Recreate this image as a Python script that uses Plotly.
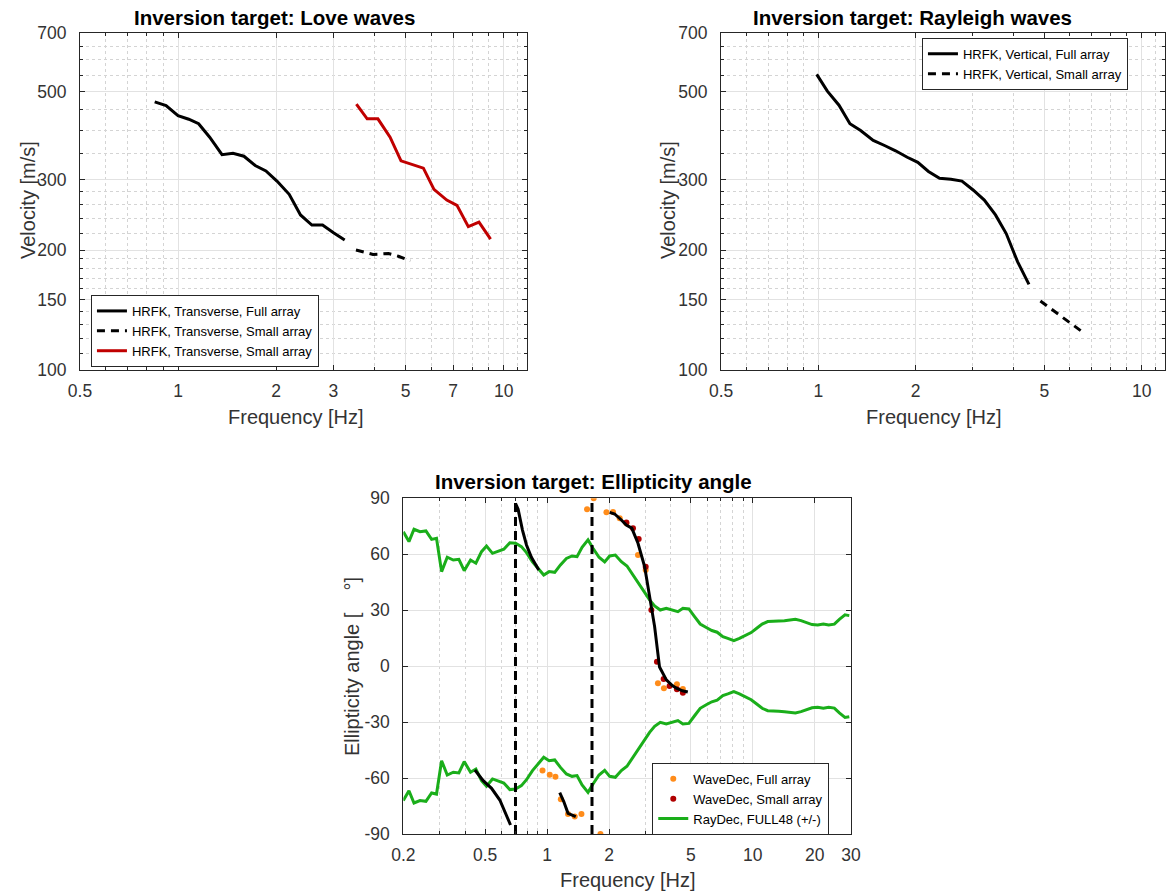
import plotly.graph_objects as go
import math

# ---------------- DATA ----------------
# Love waves
love_full_f = [0.848, 0.919, 1.0, 1.079, 1.157, 1.251, 1.365, 1.475, 1.594, 1.726, 1.862, 2.013, 2.195, 2.378, 2.577, 2.779, 3.003, 3.25]
love_full_v = [471, 461, 435, 426, 415, 384, 347, 350, 344, 326, 316, 298, 276, 245, 231, 231, 221, 212]
love_small_f = [3.52, 3.97, 4.43, 4.75, 5.17]
love_small_v = [200, 195, 196, 193, 188]
love_red_f = [3.53, 3.81, 4.11, 4.48, 4.84, 5.27, 5.67, 6.11, 6.69, 7.19, 7.79, 8.40, 9.12]
love_red_v = [465, 427, 427, 384, 335, 328, 321, 284, 267, 259, 229, 235, 213]

# Rayleigh waves
ray_full_f = [0.988, 1.066, 1.158, 1.252, 1.351, 1.478, 1.602, 1.733, 1.883, 2.03, 2.19, 2.37, 2.57, 2.78, 3.01, 3.26, 3.53, 3.81, 4.13, 4.48]
ray_full_v = [552, 501, 462, 415, 399, 377, 366, 355, 342, 332, 315, 303, 301, 298, 283, 267, 245, 220, 187, 164]
ray_small_f = [4.86, 5.70, 6.70]
ray_small_v = [149, 135.6, 123]

# Ellipticity: RayDec (plotted as +/-)
raydec_f = [0.2, 0.213, 0.2254, 0.241, 0.2576, 0.2745, 0.290, 0.307, 0.327, 0.350,
            0.3725, 0.3955, 0.4245, 0.4506, 0.480, 0.5076, 0.5428, 0.578, 0.616, 0.659,
            0.702, 0.750, 0.794, 0.849, 0.904, 0.963, 1.023, 1.089, 1.161, 1.241,
            1.322, 1.398, 1.479, 1.581, 1.672, 1.788, 1.905, 2.015, 2.146, 2.296,
            2.445, 2.615, 2.786, 2.979, 3.150, 3.332, 3.549, 3.795, 4.045, 4.325,
            4.573, 4.890, 5.21, 5.55, 5.94, 6.32, 6.71, 7.15, 7.56, 8.09,
            8.61, 9.18, 9.82, 10.45, 11.10, 11.82, 12.6, 13.37, 14.25, 15.18,
            16.11, 17.16, 18.28, 19.41, 20.68, 22.03, 23.38, 24.91, 26.35, 28.06, 29.45]
raydec_a = [72.1, 66.8, 73.4, 72.1, 72.5, 68.0, 68.6, 50.7, 58.4, 56.9,
            57.3, 51.2, 56.9, 55.2, 61.4, 64.4, 60.5, 61.8, 62.7, 66.2,
            65.9, 64.1, 60.9, 56.0, 52.5, 48.9, 50.7, 50.3, 54.3, 57.8,
            59.1, 58.7, 63.7, 67.7, 63.2, 58.4, 55.9, 59.1, 59.6, 56.0,
            53.7, 48.9, 44.1, 40.0, 35.5, 32.3, 30.1, 31.0, 30.1, 29.2,
            31.0, 30.7, 26.6, 22.6, 20.7, 19.1, 18.2, 15.8, 14.9, 13.7,
            14.9, 16.4, 18.0, 20.3, 22.6, 23.9, 23.9, 24.2, 24.4, 24.8,
            25.1, 24.4, 23.3, 22.3, 22.1, 22.6, 22.1, 22.5, 25.1, 27.5, 27.1]
raydec_a_neg = [-a for a in raydec_a]

# WaveDec points
wd_full_f = [0.95, 1.03, 1.098, 1.166, 1.264, 1.363, 1.469, 1.564, 1.685, 1.817,
             1.943, 2.091, 2.254, 2.429, 2.766, 3.015, 3.458, 3.698, 4.276, 4.57]
wd_full_a = [-56, -58.2, -59.3, -71.4, -79.3, -80.7, -79.3, 84.1, 90, -90,
             82.5, 82.7, 79.3, 76.6, 59.6, 51.6, -9.2, -11.9, -9.7, -12.2]
wd_small_f = [2.429, 2.615, 2.787, 3.015, 3.213, 3.42, 3.686, 3.94, 4.276, 4.57]
wd_small_a = [77.1, 73.9, 68.2, 53.3, 30.1, 2.4, -6.9, -10.6, -12.4, -14.2]

# Inversion target (black curves)
fitA_f = [0.4456, 0.489, 0.537, 0.589, 0.664]
fitA_a = [-55.7, -61.4, -65.5, -71.8, -85.2]
fitB_f = [0.702, 0.723, 0.759, 0.794, 0.839, 0.911]
fitB_a = [87.3, 84.1, 73.0, 65.0, 58.4, 51.6]
fitC_f = [1.152, 1.205, 1.264, 1.337, 1.378]
fitC_a = [-67.8, -72.6, -78.9, -80.3, -80.7]
fitD_f = [2.015, 2.131, 2.296, 2.427, 2.58, 2.766, 2.979, 3.15, 3.332, 3.52, 3.66, 3.80, 4.05, 4.25, 4.55, 4.83]
fitD_a = [82.5, 81.6, 78.4, 75.7, 74.0, 65.9, 53.4, 36.5, 21.2, -0.5, -4.5, -7.4, -10.3, -11.8, -13.2, -13.9]

# Frequency-band limits (vertical dashed)
vline_f = [0.702, 1.653]
vline_a = [-90, 88]

# Ticks
vel_ticks = [100, 150, 200, 300, 500, 700]
vel_minor = [110, 120, 130, 140, 160, 170, 180, 190, 220, 240, 260, 280, 350, 400, 450, 550, 600, 650]
love_fticks = [0.5, 1, 2, 3, 5, 7, 10]
love_fminor = [0.6, 0.7, 0.8, 0.9, 4, 6, 8, 9, 11]
ray_fticks = [0.5, 1, 2, 5, 10]
ray_fminor = [0.6, 0.7, 0.8, 0.9, 3, 4, 6, 7, 8, 9, 11]
ell_fticks = [0.2, 0.5, 1, 2, 5, 10, 20, 30]
ell_fticks_text = ["0.2", "0.5", "1", "2", "5", "10", "20", "30"]
ell_fminor = [0.3, 0.4, 0.6, 0.7, 0.8, 0.9, 3, 4, 6, 7, 8, 9]
ell_aticks = [-90, -60, -30, 0, 30, 60, 90]

# ---------------- STYLE ----------------
FONT = "Liberation Sans, Arial, Helvetica, sans-serif"
AX = "#262626"
TXT = "#333333"
RED = "#c00000"
GREEN = "#1aae1a"
ORANGE = "#ff8c1a"
DKRED = "#b00000"
TICKSIZE = 17.5
LABSIZE = 20
TITSIZE = 20.5
LEGSIZE = 13

fig = go.Figure()

# Love
fig.add_trace(go.Scatter(x=love_full_f, y=love_full_v, mode="lines", line=dict(color="black", width=3),
                         name="HRFK, Transverse, Full array", xaxis="x", yaxis="y", legend="legend"))
fig.add_trace(go.Scatter(x=love_small_f, y=love_small_v, mode="lines", line=dict(color="black", width=3, dash="8px,6px"),
                         name="HRFK, Transverse, Small array", xaxis="x", yaxis="y", legend="legend"))
fig.add_trace(go.Scatter(x=love_red_f, y=love_red_v, mode="lines", line=dict(color=RED, width=3),
                         name="HRFK, Transverse, Small array", xaxis="x", yaxis="y", legend="legend"))

# Rayleigh
fig.add_trace(go.Scatter(x=ray_full_f, y=ray_full_v, mode="lines", line=dict(color="black", width=3),
                         name="HRFK, Vertical, Full array", xaxis="x2", yaxis="y2", legend="legend2"))
fig.add_trace(go.Scatter(x=ray_small_f, y=ray_small_v, mode="lines", line=dict(color="black", width=3, dash="8px,6px"),
                         name="HRFK, Vertical, Small array", xaxis="x2", yaxis="y2", legend="legend2"))

# Ellipticity
fig.add_trace(go.Scatter(x=raydec_f, y=raydec_a, mode="lines", line=dict(color=GREEN, width=3),
                         showlegend=False, xaxis="x3", yaxis="y3", legend="legend3"))
fig.add_trace(go.Scatter(x=raydec_f, y=raydec_a_neg, mode="lines", line=dict(color=GREEN, width=3),
                         showlegend=False, xaxis="x3", yaxis="y3", legend="legend3"))
fig.add_trace(go.Scatter(x=wd_full_f, y=wd_full_a, mode="markers", marker=dict(color=ORANGE, size=6),
                         name="WaveDec, Full array", xaxis="x3", yaxis="y3", legend="legend3"))
fig.add_trace(go.Scatter(x=wd_small_f, y=wd_small_a, mode="markers", marker=dict(color=DKRED, size=6),
                         name="WaveDec, Small array", xaxis="x3", yaxis="y3", legend="legend3"))
# legend proxy for the RayDec curve
fig.add_trace(go.Scatter(x=[None], y=[None], mode="lines", line=dict(color=GREEN, width=3),
                         name="RayDec, FULL48 (+/-)", xaxis="x3", yaxis="y3", legend="legend3"))
for ff, aa in [(fitA_f, fitA_a), (fitB_f, fitB_a), (fitC_f, fitC_a), (fitD_f, fitD_a)]:
    fig.add_trace(go.Scatter(x=ff, y=aa, mode="lines", line=dict(color="black", width=3),
                             showlegend=False, xaxis="x3", yaxis="y3"))
for vf in vline_f:
    fig.add_trace(go.Scatter(x=[vf, vf], y=vline_a, mode="lines", line=dict(color="black", width=3, dash="9px,5px"),
                             showlegend=False, xaxis="x3", yaxis="y3"))


def axis(domain, anchor, rng, tickvals, ticktext=None, minor_vals=None, logt=True, standoff=4):
    d = dict(domain=domain, anchor=anchor, range=rng, type="log" if logt else "linear",
             tickmode="array", tickvals=tickvals,
             showline=True, linecolor=AX, linewidth=1, mirror="allticks",
             ticks="inside", ticklen=5, tickcolor=AX, tickwidth=1,
             showgrid=True, gridcolor="#e2e2e2", gridwidth=1, zeroline=False,
             tickfont=dict(size=TICKSIZE, color=TXT, family=FONT), automargin=False,
             ticklabelstandoff=standoff)
    if ticktext is not None:
        d["ticktext"] = ticktext
    if minor_vals is not None:
        d["minor"] = dict(tickmode="array", tickvals=minor_vals, showgrid=True, gridcolor="#d4d4d4",
                          griddash="dot", gridwidth=1, ticks="inside", ticklen=3, tickcolor=AX)
    return d


LX = [math.log10(0.5), math.log10(11.8)]
LY = [2, math.log10(700)]

def legend(x, y):
    return dict(x=x, y=y, xanchor="left", yanchor="middle", bgcolor="white", bordercolor=AX, borderwidth=1,
                font=dict(size=LEGSIZE, family=FONT, color="black"), tracegroupgap=0)

fig.update_layout(
    width=1166, height=895,
    margin=dict(l=0, r=0, t=0, b=0),
    paper_bgcolor="white", plot_bgcolor="white",
    font=dict(family=FONT, color=TXT),
    xaxis=axis([0.0686, 0.4520], "y", LX, love_fticks, [str(v) for v in love_fticks], love_fminor, standoff=5),
    yaxis=axis([0.5866, 0.9628], "x", LY, vel_ticks, [str(v) for v in vel_ticks], vel_minor, standoff=9),
    xaxis2=axis([0.6184, 0.9991], "y2", LX, ray_fticks, [str(v) for v in ray_fticks], ray_fminor, standoff=5),
    yaxis2=axis([0.5866, 0.9628], "x2", LY, vel_ticks, [str(v) for v in vel_ticks], vel_minor, standoff=9),
    xaxis3=axis([0.3459, 0.7298], "y3", [math.log10(0.2), math.log10(30)], ell_fticks, ell_fticks_text, ell_fminor, standoff=5),
    yaxis3=axis([0.0682, 0.4432], "x3", [-90, 90], ell_aticks, [str(v) for v in ell_aticks], None, logt=False, standoff=9),
    legend=legend(0.078, 0.6302),
    legend2=legend(0.7907, 0.9287),
    legend3=legend(0.5594, 0.1075),
)

ann = []
def text(x, y, s, size, bold=False, angle=0, color=TXT):
    ann.append(dict(xref="paper", yref="paper", x=x, y=y, xanchor="center", yanchor="middle",
                    text=("<b>%s</b>" % s) if bold else s, showarrow=False, textangle=angle,
                    font=dict(size=size, family=FONT, color=color)))

text(0.2358, 0.981, "Inversion target: Love waves", TITSIZE, bold=True, color="black")
text(0.7822, 0.981, "Inversion target: Rayleigh waves", TITSIZE, bold=True, color="black")
text(0.5094, 0.4615, "Inversion target: Ellipticity angle", TITSIZE, bold=True, color="black")
text(0.2539, 0.5345, "Frequency [Hz]", LABSIZE)
text(0.801, 0.5345, "Frequency [Hz]", LABSIZE)
text(0.5386, 0.0168, "Frequency [Hz]", LABSIZE)
text(0.024, 0.7765, "Velocity [m/s]", LABSIZE, angle=-90)
text(0.5729, 0.7765, "Velocity [m/s]", LABSIZE, angle=-90)
text(0.3019, 0.2547, "Ellipticity angle [\u00a0\u00a0\u00a0\u00a0\u00b0]", LABSIZE, angle=-90)
fig.update_layout(annotations=ann)

fig.write_html("out.html")
